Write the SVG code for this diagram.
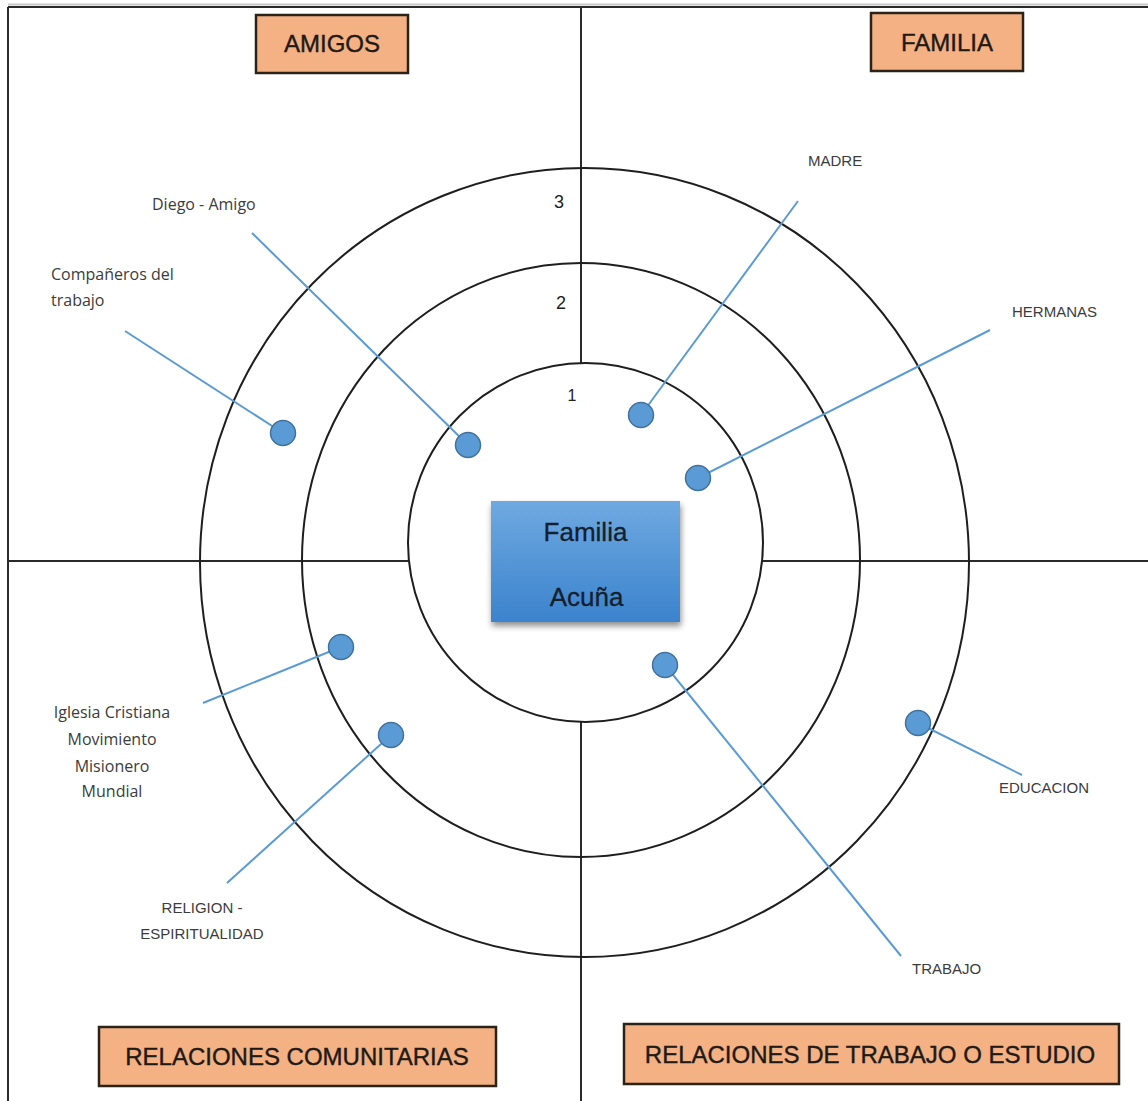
<svg xmlns="http://www.w3.org/2000/svg" width="1148" height="1101" viewBox="0 0 1148 1101">
  <defs>
    <linearGradient id="blueGrad" x1="0" y1="0" x2="0" y2="1">
      <stop offset="0" stop-color="#6FA9E1"/>
      <stop offset="1" stop-color="#3B83CD"/>
    </linearGradient>
    <filter id="shadow" x="-20%" y="-20%" width="140%" height="150%">
      <feGaussianBlur in="SourceAlpha" stdDeviation="3"/>
      <feOffset dx="1" dy="4" result="b"/>
      <feComponentTransfer><feFuncA type="linear" slope="0.45"/></feComponentTransfer>
      <feMerge><feMergeNode/><feMergeNode in="SourceGraphic"/></feMerge>
    </filter>
  </defs>
  <style>
    .frame { stroke: #2a2a2a; stroke-width: 2; fill: none; }
    .ring { stroke: #1e1e1e; stroke-width: 2; fill: none; }
    .conn { stroke: #5B9BD5; stroke-width: 2; fill: none; }
    .dot { fill: #5B9BD5; stroke: #41719C; stroke-width: 1.5; }
    .tag { fill: #F4B183; stroke: #2b2218; stroke-width: 2.5; }
    .tagtxt { font-family: "Liberation Sans", Arial, sans-serif; font-size: 24px; fill: #1f1a16; stroke: #1f1a16; stroke-width: 0.4; text-anchor: middle; }
    .lbl { font-family: "Open Sans", "Liberation Sans", sans-serif; font-size: 16px; fill: #3c3c3c; }
    .cap { font-family: "Liberation Sans", Arial, sans-serif; font-size: 15px; fill: #3c3c3c; }
    .num { font-family: "Liberation Sans", Arial, sans-serif; font-size: 18px; fill: #222; text-anchor: middle; }
    .ctr { font-family: "Liberation Sans", Arial, sans-serif; font-size: 26px; fill: #14202e; stroke: #14202e; stroke-width: 0.3; text-anchor: middle; }
  </style>
  <rect width="1148" height="1101" fill="#ffffff"/>

  <g id="grid">
    <line x1="8" y1="4.5" x2="1148" y2="4.5" stroke="#c8c8c8" stroke-width="2"/>
    <line class="frame" x1="8" y1="7" x2="1148" y2="7"/>
    <line class="frame" x1="8" y1="7" x2="8" y2="1101"/>
    <line class="frame" x1="581" y1="7" x2="581" y2="363"/>
    <line class="frame" x1="581" y1="722" x2="581" y2="1101"/>
    <line class="frame" x1="8" y1="561" x2="408" y2="561"/>
    <line class="frame" x1="763" y1="561" x2="1148" y2="561"/>
  </g>

  <g id="rings">
    <ellipse class="ring" cx="584.5" cy="562.5" rx="384.5" ry="394.5"/>
    <ellipse class="ring" cx="581" cy="560" rx="279" ry="297"/>
    <ellipse class="ring" cx="585.5" cy="542.5" rx="177.5" ry="179.5"/>
    <text class="num" x="559" y="208">3</text>
    <text class="num" x="561" y="309">2</text>
    <text class="num" x="572" y="401" style="font-size:16px">1</text>
  </g>

  <g id="connectors">
    <line class="conn" x1="125" y1="331" x2="283" y2="433"/>
    <line class="conn" x1="252" y1="233" x2="468" y2="445"/>
    <line class="conn" x1="798" y1="201" x2="641" y2="415"/>
    <line class="conn" x1="990" y1="330" x2="698" y2="478"/>
    <line class="conn" x1="203" y1="703" x2="341" y2="647"/>
    <line class="conn" x1="227" y1="883" x2="391" y2="735"/>
    <line class="conn" x1="665" y1="665" x2="901" y2="956"/>
    <line class="conn" x1="918" y1="723" x2="1022" y2="775"/>
  </g>

  <g id="amigos">
    <rect class="tag" x="256" y="15" width="152" height="58"/>
    <text class="tagtxt" x="332" y="52">AMIGOS</text>
  </g>
  <g id="familia">
    <rect class="tag" x="871" y="13" width="152" height="58"/>
    <text class="tagtxt" x="947" y="51">FAMILIA</text>
  </g>
  <g id="relaciones-comunitarias">
    <rect class="tag" x="99" y="1027" width="397" height="59"/>
    <text class="tagtxt" x="297" y="1065">RELACIONES COMUNITARIAS</text>
  </g>
  <g id="relaciones-trabajo">
    <rect class="tag" x="624" y="1024" width="495" height="60"/>
    <text class="tagtxt" x="870" y="1063">RELACIONES DE TRABAJO O ESTUDIO</text>
  </g>

  <g id="centro">
    <rect x="491" y="501" width="189" height="121" fill="url(#blueGrad)" filter="url(#shadow)"/>
    <text class="ctr" x="585.5" y="541">Familia</text>
    <text class="ctr" x="586.5" y="606">Acuña</text>
  </g>

  <g id="companeros">
    <circle class="dot" cx="283" cy="433" r="12.5"/>
    <text class="lbl" x="51" y="280">Compañeros del</text>
    <text class="lbl" x="51" y="306">trabajo</text>
  </g>
  <g id="diego">
    <circle class="dot" cx="468" cy="445" r="12.5"/>
    <text class="lbl" x="152" y="210">Diego - Amigo</text>
  </g>
  <g id="madre">
    <circle class="dot" cx="641" cy="415" r="12.5"/>
    <text class="cap" x="808" y="166">MADRE</text>
  </g>
  <g id="hermanas">
    <circle class="dot" cx="698" cy="478" r="12.5"/>
    <text class="cap" x="1012" y="317">HERMANAS</text>
  </g>
  <g id="iglesia">
    <circle class="dot" cx="341" cy="647" r="12.5"/>
    <text class="lbl" text-anchor="middle" x="112" y="718">Iglesia Cristiana</text>
    <text class="lbl" text-anchor="middle" x="112" y="745">Movimiento</text>
    <text class="lbl" text-anchor="middle" x="112" y="772">Misionero</text>
    <text class="lbl" text-anchor="middle" x="112" y="797">Mundial</text>
  </g>
  <g id="religion">
    <circle class="dot" cx="391" cy="735" r="12.5"/>
    <text class="cap" text-anchor="middle" x="202" y="913">RELIGION -</text>
    <text class="cap" text-anchor="middle" x="202" y="939">ESPIRITUALIDAD</text>
  </g>
  <g id="trabajo">
    <circle class="dot" cx="665" cy="665" r="12.5"/>
    <text class="cap" x="912" y="974">TRABAJO</text>
  </g>
  <g id="educacion">
    <circle class="dot" cx="918" cy="723" r="12.5"/>
    <text class="cap" x="999" y="793">EDUCACION</text>
  </g>
</svg>
